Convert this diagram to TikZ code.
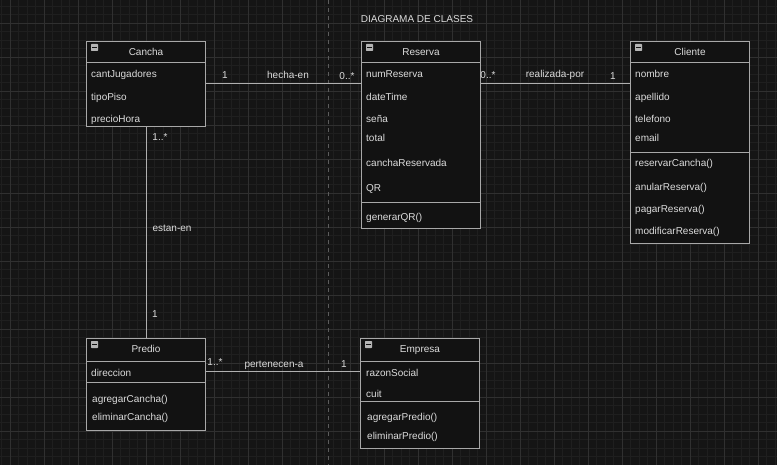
\documentclass[tikz,border=0pt]{standalone}
\usepackage{fontspec}
\setmainfont{Liberation Sans}
\definecolor{bgc}{HTML}{151515}
\definecolor{minorg}{HTML}{1F1F1F}
\definecolor{majorg}{HTML}{303030}
\definecolor{boxfill}{HTML}{121212}
\definecolor{boxc}{HTML}{A8A8A8}
\definecolor{linec}{HTML}{B0B0B0}
\definecolor{txtc}{HTML}{DCDCDC}
\definecolor{iconc}{HTML}{B4B4B4}
\definecolor{dashc}{HTML}{5C5C5C}
\begin{document}
\begin{tikzpicture}[x=1pt,y=-1pt,
  txt/.style={font=\fontsize{10}{12}\selectfont, text=txtc, inner sep=0pt, text height=7pt, text depth=0pt},
  attr/.style={txt, anchor=west},
  lbl/.style={txt},
  umlbox/.style={draw=boxc, fill=boxfill, line width=0.9pt, rectangle, inner sep=0pt, anchor=north west},
  sep/.style={draw=boxc, line width=0.9pt},
  conn/.style={draw=linec, line width=0.9pt},
  icon/.style={fill=iconc, minimum size=7pt, inner sep=0pt, rectangle, rounded corners=0.6pt,
    path picture={\draw[boxfill, line width=1.2pt] ([xshift=1.4pt]path picture bounding box.west) -- ([xshift=-1.4pt]path picture bounding box.east);}}]
\fill[bgc] (0,0) rectangle (777,465);
\useasboundingbox (0,0) rectangle (777,465);
% grid
\foreach \i in {0,...,91} \draw[minorg, line width=0.6pt] ({1.5+8.5*\i},0) -- ({1.5+8.5*\i},465);
\foreach \i in {0,...,54} \draw[minorg, line width=0.6pt] (0,{6+8.5*\i}) -- (777,{6+8.5*\i});
\foreach \i in {0,...,22} \draw[majorg, line width=0.8pt] ({10+34*\i},0) -- ({10+34*\i},465);
\foreach \i in {0,...,13} \draw[majorg, line width=0.8pt] (0,{23+34*\i}) -- (777,{23+34*\i});
\draw[dashc, line width=0.8pt, dash pattern=on 4pt off 4pt] (328,0) -- (328,465);
% title
\node[lbl] (title) at (417,19) {DIAGRAMA DE CLASES};
% coordinates for connectors
\coordinate (r1) at (0,83);
\coordinate (r2) at (0,371.5);
\coordinate (c3) at (146,0);
% Boxes
\node[umlbox, minimum width=119pt, minimum height=85pt] (cancha) at (86,41) {};
\node[umlbox, minimum width=119pt, minimum height=187pt] (reserva) at (361,41) {};
\node[umlbox, minimum width=119pt, minimum height=202pt] (cliente) at (630,41) {};
\node[umlbox, minimum width=119pt, minimum height=92pt] (predio) at (86,338) {};
\node[umlbox, minimum width=119pt, minimum height=110pt] (empresa) at (360,338) {};
% separators
\draw[sep] (86,62) -- (205,62);
\draw[sep] (361,62) -- (480,62);
\draw[sep] (361,202) -- (480,202);
\draw[sep] (630,62) -- (749,62);
\draw[sep] (630,152) -- (749,152);
\draw[sep] (86,361) -- (205,361);
\draw[sep] (86,382) -- (205,382);
\draw[sep] (360,361) -- (479,361);
\draw[sep] (360,401) -- (479,401);
% icons
\node[icon] (canchaI) at (94.5,47.5) {};
\node[icon] (reservaI) at (369.5,47.5) {};
\node[icon] (clienteI) at (638.5,47.5) {};
\node[icon] (predioI) at (94.5,344.5) {};
\node[icon] (empresaI) at (368.5,344.5) {};
% titles
\node[lbl] (canchaT) at (146,52) {Cancha};
\node[lbl] (reservaT) at (421,52) {Reserva};
\node[lbl] (clienteT) at (690,52) {Cliente};
\node[lbl] (predioT) at (146,349) {Predio};
\node[lbl] (empresaT) at (420,349) {Empresa};
% Cancha attributes
\node[attr] (ca1) at (91,74.5) {cantJugadores};
\node[attr] (ca2) at (91,97.5) {tipoPiso};
\node[attr] (ca3) at (91,119.5) {precioHora};
% Reserva
\node[attr] (ra1) at (366,74.5) {numReserva};
\node[attr] (ra2) at (366,97.5) {dateTime};
\node[attr] (ra3) at (366,119.5) {seña};
\node[attr] (ra4) at (366,138) {total};
\node[attr] (ra5) at (366,163) {canchaReservada};
\node[attr] (ra6) at (366,188.5) {QR};
\node[attr] (rm1) at (366,217.5) {generarQR()};
% Cliente
\node[attr] (cl1) at (635,74.5) {nombre};
\node[attr] (cl2) at (635,97.5) {apellido};
\node[attr] (cl3) at (635,119.5) {telefono};
\node[attr] (cl4) at (635,138.5) {email};
\node[attr] (cm1) at (635,163.5) {reservarCancha()};
\node[attr] (cm2) at (635,187.5) {anularReserva()};
\node[attr] (cm3) at (635,209) {pagarReserva()};
\node[attr] (cm4) at (635,231) {modificarReserva()};
% Predio
\node[attr] (pa1) at (91,372.5) {direccion};
\node[attr] (pm1) at (92,398.5) {agregarCancha()};
\node[attr] (pm2) at (92,416.5) {eliminarCancha()};
% Empresa
\node[attr] (ea1) at (366,372.5) {razonSocial};
\node[attr] (ea2) at (366,393.5) {cuit};
\node[attr] (em1) at (367,416.5) {agregarPredio()};
\node[attr] (em2) at (367,435.5) {eliminarPredio()};
% connectors between boxes
\draw[conn] (cancha.east |- r1) -- (reserva.west |- r1);
\draw[conn] (reserva.east |- r1) -- (cliente.west |- r1);
\draw[conn] (cancha.south -| c3) -- (predio.north -| c3);
\draw[conn] (predio.east |- r2) -- (empresa.west |- r2);
% labels
\node[lbl] (l1) at (225,75.5) {1};
\node[lbl] (l2) at (288,75) {hecha-en};
\node[lbl] (l3) at (347,76) {0..*};
\node[lbl] (l4) at (488,75) {0..*};
\node[lbl] (l5) at (555,74.5) {realizada-por};
\node[lbl] (l6) at (613,76) {1};
\node[lbl] (l7) at (160,137) {1..*};
\node[lbl] (l8) at (172,228) {estan-en};
\node[lbl] (l9) at (155,314) {1};
\node[lbl] (l10) at (215,362) {1..*};
\node[lbl] (l11) at (274,363.5) {pertenecen-a};
\node[lbl] (l12) at (344,364) {1};
\end{tikzpicture}
\end{document}
